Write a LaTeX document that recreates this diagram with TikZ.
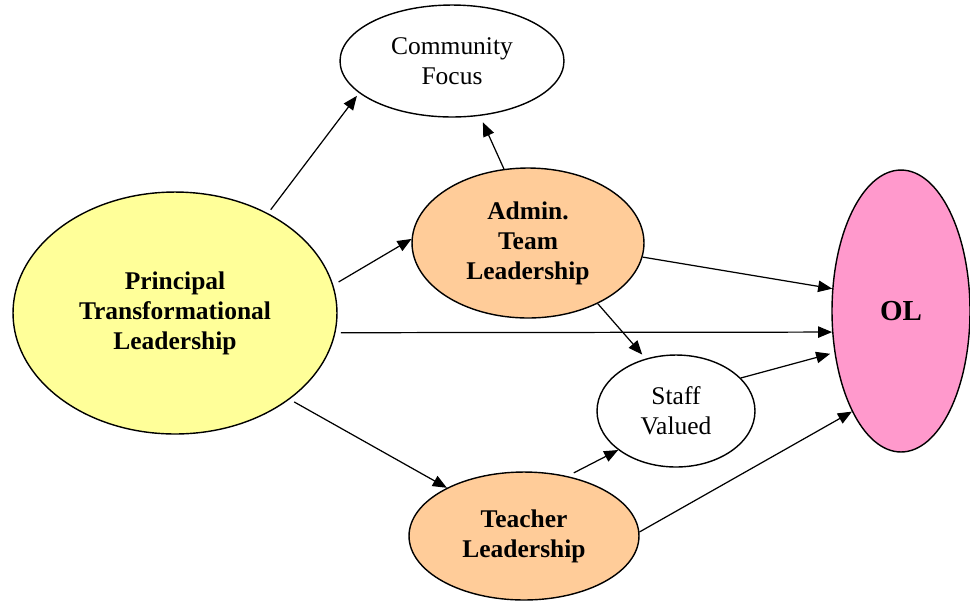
\documentclass[tikz,border=0pt]{standalone}
\usepackage{fontspec}
\setmainfont{Liberation Serif}
\usepackage{tikz}
\usetikzlibrary{shapes.geometric,arrows.meta}
\definecolor{prinyellow}{HTML}{FFFF99}
\definecolor{teamorange}{HTML}{FFCC99}
\definecolor{olpink}{HTML}{FF99CC}

\begin{document}
\begin{tikzpicture}[x=0.02cm, y=-0.02cm,
		oval/.style={ellipse, draw, line width=0.8pt, inner sep=0pt, align=center, font=\fontsize{14.5}{17}\selectfont},
		arr/.style={-{Triangle[length=8pt,width=6.5pt]}, line width=0.7pt}]
				\useasboundingbox (0,0) rectangle (970,600);
				\node[oval, fill=prinyellow, minimum width=6.48cm, minimum height=4.84cm] (prin) at (175,313) {\bfseries Principal\\ \bfseries Transformational\\ \bfseries Leadership};
				\node[oval, fill=white, minimum width=4.48cm, minimum height=2.24cm] (comm) at (452,61) {Community\\ Focus};
				\node[oval, fill=teamorange, minimum width=4.64cm, minimum height=3.0cm] (admin) at (528,243) {\bfseries Admin.\\ \bfseries Team\\ \bfseries Leadership};
				\node[oval, fill=white, minimum width=3.16cm, minimum height=2.24cm] (staff) at (676,411) {Staff\\ Valued};
				\node[oval, fill=teamorange, minimum width=4.6cm, minimum height=2.56cm] (teach) at (524,536) {\bfseries Teacher\\ \bfseries Leadership};
				\node[oval, fill=olpink, minimum width=2.76cm, minimum height=5.64cm, font=\fontsize{16.5}{20}\selectfont\bfseries] (ol) at (901,311) {OL};
				\draw[arr, shorten <=2.5pt, shorten >=2pt] (prin.47) -- (comm.199);
				\draw[arr, shorten >=4pt] (admin.108) -- (comm.-63);
				\draw[arr, shorten <=3.5pt] (prin.10) -- (admin.178);
				\draw[arr] (admin.-7) -- (ol.162);
				\draw[arr, shorten <=3pt] (prin.-7) -- (ol.197);
				\draw[arr, shorten >=3pt] (admin.-41) -- (staff.120);
				\draw[arr, shorten >=2.5pt] (staff.27) -- (ol.212);
				\draw[arr, shorten <=3pt] (prin.-37) -- (teach.148);
				\draw[arr, shorten <=4pt] (teach.54) -- (staff.214);
				\draw[arr] (teach.2) -- (ol.244);
			\end{tikzpicture}
\end{document}
